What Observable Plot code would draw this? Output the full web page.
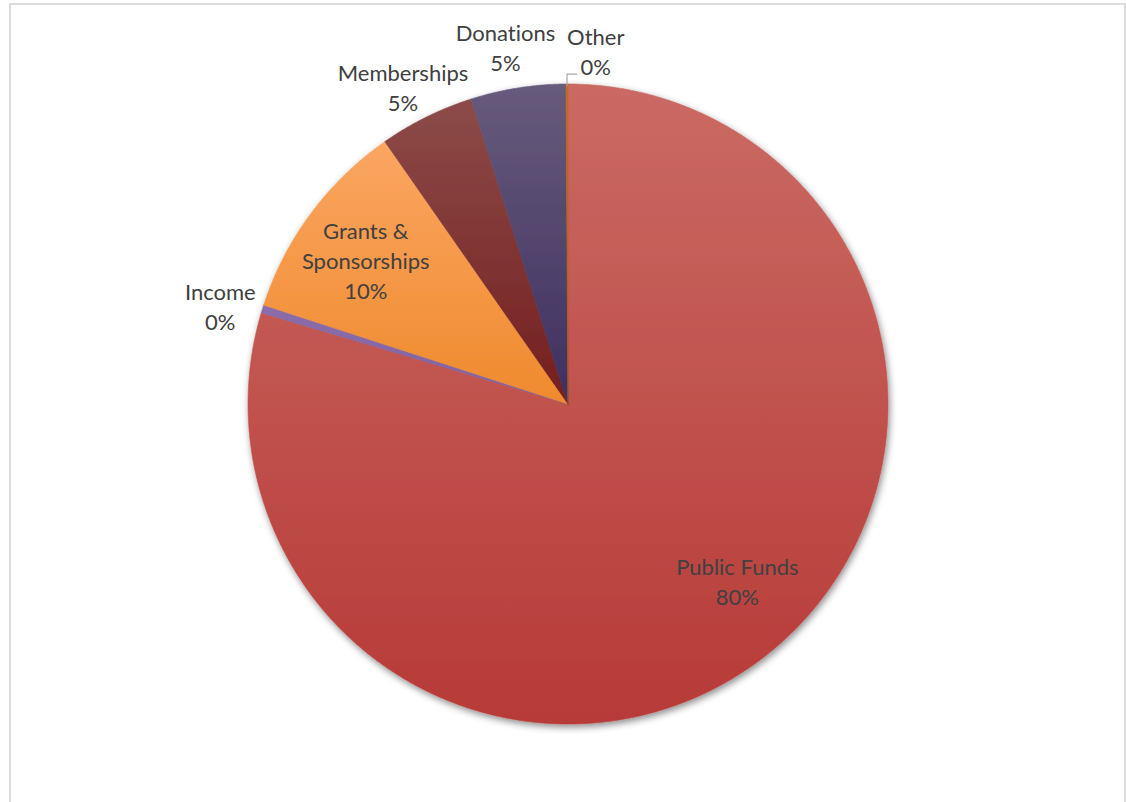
<!DOCTYPE html>
<html>
<head>
<meta charset="utf-8">
<script src="https://cdn.jsdelivr.net/npm/d3@7"></script>
<script src="https://cdn.jsdelivr.net/npm/@observablehq/plot@0.6"></script>
<style>
  html, body { margin: 0; padding: 0; background: #fff; }
  #wrap { position: relative; width: 1126px; height: 802px; overflow: hidden; }
  #frame { position: absolute; left: 9px; top: 3px; width: 1117px; height: 820px;
           border: 2px solid #dcdcdc; box-sizing: border-box; pointer-events: none; }
  #chart { position: absolute; left: 0; top: 0; }
  text { font-variant-ligatures: none; }
</style>
</head>
<body>
<div id="wrap"><div id="chart"></div><div id="frame"></div></div>
<script>
// ---- data ----
const categories = ["Public Funds", "Income", "Grants & Sponsorships", "Memberships", "Donations", "Other"];
const values = [79.6, 0.4, 10.3, 4.8, 4.8, 0.1];
const percentLabels = ["80%", "0%", "10%", "5%", "5%", "0%"];
const labelTexts = ["Public Funds", "Income", "Grants &\nSponsorships", "Memberships", "Donations", "Other"];

// ---- styling / layout ----
const gradTop    = ["#ca6a64", "#8a6daa", "#fba662", "#8c4b49", "#675b7c", "#c26a28"];
const gradBottom = ["#b73a37", "#7f62a0", "#ef8a2d", "#741e1e", "#3e2f5f", "#b55a16"];
const labelShift = [-6.7, -1.9, -1.5, -1.4, -1.0, 4.7];   // degrees from mid-angle
const labelDist  = [0.77, 1.127, 0.772, 1.11, 1.125, 1.10]; // fraction of radius
const W = 1126, H = 802, CX = 567.5, CY = 403.5, R = 320;

const pie = d3.pie().sort(null).value(d => d)(values);
const pt = (a, f) => ({x: Math.sin(a) * f, y: Math.cos(a) * f});

const slices = pie.map((p, i) => {
  const pts = [{...pt(0, 0), name: categories[i]}];
  const n = Math.max(2, Math.ceil((p.endAngle - p.startAngle) / (Math.PI / 720)));
  for (let k = 0; k <= n; k++) {
    const a = p.startAngle + (p.endAngle - p.startAngle) * k / n;
    pts.push({...pt(a, 1), name: categories[i]});
  }
  return pts;
});

const labels = pie.map((p, i) => {
  const a = (p.startAngle + p.endAngle) / 2 + labelShift[i] * Math.PI / 180;
  return {...pt(a, labelDist[i]), text: labelTexts[i] + "\n" + percentLabels[i], i};
});

// leader line for "Other"
const oth = pie[5];
const om = (oth.startAngle + oth.endAngle) / 2;
const p0 = pt(om, 1.0);
const lblO = labels[5];
const leader = [
  {x: p0.x, y: p0.y - 0.005},
  {x: p0.x, y: lblO.y - 0.066},
  {x: lblO.x - 0.06, y: lblO.y - 0.066}
];

const marks = slices.map((s, i) => Plot.line(s, {
  x: "x", y: "y", fill: gradBottom[i], stroke: gradBottom[i], strokeWidth: 0.6,
  curve: "linear-closed", className: "slice" + i
}));
marks.push(Plot.line(leader, {x: "x", y: "y", stroke: "#a6a6a6", strokeWidth: 1.2}));
marks.push(Plot.text(labels, {
  x: "x", y: "y", text: "text", fill: "#404040", fontSize: 22, lineHeight: 1.36,
  textAnchor: "middle", dy: -3
}));

const chart = Plot.plot({
  width: W, height: H,
  marginTop: 0, marginRight: 0, marginBottom: 0, marginLeft: 0,
  style: {fontFamily: "Lato, 'Open Sans', sans-serif", background: "transparent"},
  x: {domain: [-CX / R, (W - CX) / R], axis: null},
  y: {domain: [-(H - CY) / R, CY / R], axis: null},
  marks
});

const svg = d3.select(chart);
const defs = svg.insert("defs", ":first-child");
gradTop.forEach((c, i) => {
  const g = defs.append("linearGradient").attr("id", `grad${i}`)
    .attr("x1", 0).attr("y1", 0).attr("x2", 0).attr("y2", 1);
  g.append("stop").attr("offset", "0%").attr("stop-color", c);
  g.append("stop").attr("offset", "100%").attr("stop-color", gradBottom[i]);
});
const f = defs.append("filter").attr("id", "pieShadow")
  .attr("x", "-10%").attr("y", "-10%").attr("width", "120%").attr("height", "120%");
f.append("feDropShadow").attr("dx", 1.5).attr("dy", 3).attr("stdDeviation", 3.5)
  .attr("flood-color", "#000").attr("flood-opacity", 0.45);

gradTop.forEach((c, i) => {
  svg.selectAll(`.slice${i}, .slice${i} path`)
    .attr("fill", `url(#grad${i})`).attr("stroke", `url(#grad${i})`);
});

const sliceGroups = gradTop.map((c, i) => svg.select(`.slice${i}`).node()).filter(Boolean);
if (sliceGroups.length) {
  const holder = svg.insert("g", () => sliceGroups[0]).attr("filter", "url(#pieShadow)");
  sliceGroups.forEach(n => holder.node().appendChild(n));
}

document.getElementById("chart").appendChild(chart);
</script>
</body>
</html>
